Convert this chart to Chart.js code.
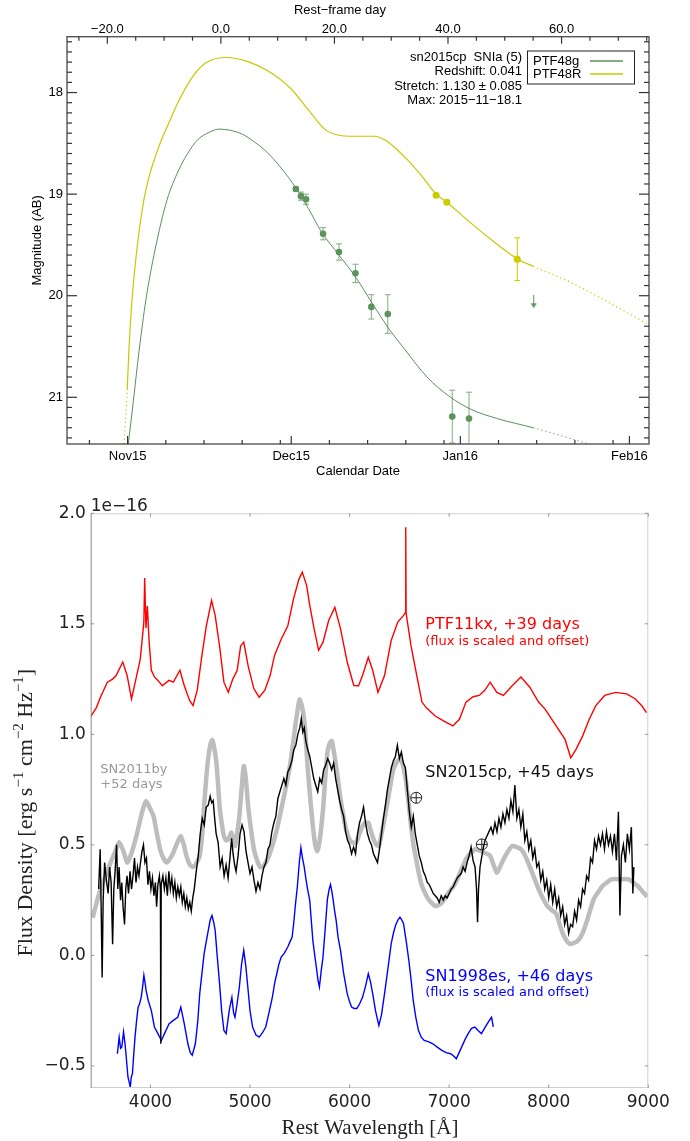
<!DOCTYPE html>
<html>
<head>
<meta charset="utf-8">
<script src="https://cdn.jsdelivr.net/npm/chart.js@4.4.1/dist/chart.umd.min.js"></script>
<style>
  html, body { margin: 0; padding: 0; background: #fff; }
  #wrap { position: relative; width: 690px; height: 1141px; }
  canvas { position: absolute; left: 0; }
  #lc { top: 0; }
  #sp { top: 482px; }
</style>
</head>
<body>
<div id="wrap">
  <canvas id="lc" width="690" height="482"></canvas>
  <canvas id="sp" width="690" height="659"></canvas>
</div>
<script>
// ---------- light curve (rest-frame days from max, AB mag) ----------
const z = 1.041;
const fitStart = -16.5, fitEnd = 55.0; // model dotted outside this window

const gModelDay = [-16.3,-15.4,-14.4,-13.2,-11.6,-9.5,-7.4,-5.4,-4.0,-2.0,-0.3,1.5,3.8,6.0,7.6,9.2,11.0,13.1,15.4,17.7,20.8,23.9,26.6,29.4,32.4,36.3,40.2,44.1,48.7,55.0,60.0,64.8];
const gModelMag = [21.46,21.03,20.54,20.04,19.55,19.06,18.76,18.56,18.46,18.39,18.36,18.37,18.41,18.49,18.56,18.65,18.77,18.93,19.14,19.37,19.60,19.83,20.07,20.31,20.53,20.80,20.99,21.12,21.21,21.30,21.38,21.46];
const rModelDay = [-17.05,-16.5,-16.2,-15.65,-14.8,-13.7,-12.7,-11.6,-10.5,-9.4,-7.5,-4.8,-2.4,1.0,4.5,8.4,12.3,15.4,18.5,20.8,23.2,27.0,29.0,31.0,33.0,35.5,37.9,39.8,43.3,47.2,52.3,55.0,62.0,69.7,75.5];
const rModelMag = [21.46,20.93,20.54,20.04,19.55,19.10,18.84,18.64,18.47,18.33,18.09,17.83,17.70,17.655,17.69,17.79,17.96,18.17,18.37,18.42,18.43,18.43,18.47,18.56,18.67,18.83,19.00,19.08,19.25,19.43,19.64,19.71,19.88,20.11,20.29];

const gObsDay = [13.2, 14.1, 15.0, 18.0, 20.8, 23.7, 26.5, 29.4, 40.75, 43.7];
const gObsMag = [18.95, 19.02, 19.05, 19.39, 19.57, 19.78, 20.11, 20.18, 21.19, 21.21];
const gObsErr = [0.02, 0.04, 0.05, 0.06, 0.08, 0.09, 0.12, 0.19, 0.26, 0.26];
const rObsDay = [37.9, 39.8, 52.2];
const rObsMag = [19.01, 19.08, 19.64];
const rObsErr = [0.01, 0.02, 0.21];
const gLimDay = [55.1];
const gLimMag = [20.06];

const magTicks = [18, 19, 20, 21];
const restTicks = [-20, 0, 20, 40, 60];
// calendar ticks as observer-frame days from max (2015-11-18.1)
const dateMajorObs = [-17.1, 12.9, 43.9, 74.9];
const dateLabels = ['Nov15', 'Dec15', 'Jan16', 'Feb16'];
const dateMinorObs = [-24.1, -10.1, -3.1, 3.9, 10.9, 19.9, 26.9, 33.9, 40.9, 50.9, 57.9, 64.9, 71.9];

// ---------- spectra (wavelength in A, flux in 1e-16) ----------
const redSpec = [[3400,1.08],[3456,1.12],[3500,1.17],[3567,1.236],[3620,1.25],[3655,1.266],[3722,1.327],[3766,1.266],[3810,1.16],[3854,1.25],[3898,1.34],[3934,1.51],[3942,1.707],[3955,1.48],[3969,1.58],[3987,1.417],[4009,1.29],[4040,1.26],[4075,1.244],[4119,1.22],[4186,1.244],[4230,1.236],[4296,1.29],[4340,1.22],[4393,1.153],[4428,1.13],[4470,1.2],[4517,1.357],[4561,1.49],[4614,1.606],[4650,1.538],[4694,1.40],[4738,1.236],[4782,1.19],[4827,1.25],[4871,1.29],[4906,1.40],[4937,1.417],[4981,1.31],[5039,1.206],[5092,1.168],[5149,1.20],[5202,1.266],[5246,1.357],[5313,1.43],[5379,1.49],[5437,1.613],[5490,1.70],[5525,1.734],[5569,1.673],[5600,1.583],[5644,1.477],[5689,1.38],[5733,1.417],[5790,1.515],[5852,1.575],[5909,1.477],[5976,1.327],[6042,1.221],[6090,1.22],[6130,1.266],[6188,1.349],[6232,1.29],[6285,1.19],[6351,1.266],[6418,1.425],[6484,1.508],[6542,1.538],[6560,1.55],[6564,1.937],[6568,1.55],[6577,1.52],[6617,1.40],[6675,1.266],[6727,1.146],[6771,1.12],[6860,1.083],[6948,1.06],[7037,1.038],[7103,1.068],[7169,1.146],[7240,1.17],[7302,1.176],[7360,1.2],[7412,1.236],[7479,1.19],[7545,1.176],[7633,1.22],[7721,1.259],[7810,1.213],[7898,1.146],[7965,1.113],[8053,1.053],[8164,0.977],[8221,0.894],[8274,0.932],[8340,0.992],[8407,1.068],[8473,1.13],[8562,1.176],[8672,1.19],[8783,1.183],[8871,1.16],[8937,1.128],[8981,1.098]];

const graySpec = [[3420,0.17],[3460,0.24],[3500,0.30],[3550,0.36],[3600,0.42],[3642,0.465],[3686,0.513],[3730,0.47],[3766,0.42],[3800,0.45],[3832,0.495],[3870,0.56],[3898,0.615],[3930,0.67],[3955,0.698],[3990,0.67],[4031,0.63],[4065,0.55],[4097,0.48],[4130,0.44],[4164,0.42],[4200,0.44],[4230,0.465],[4270,0.51],[4305,0.54],[4335,0.50],[4362,0.45],[4395,0.41],[4429,0.40],[4465,0.42],[4495,0.45],[4520,0.55],[4539,0.676],[4560,0.80],[4583,0.902],[4605,0.96],[4622,0.974],[4640,0.94],[4659,0.887],[4675,0.80],[4694,0.676],[4715,0.60],[4738,0.54],[4760,0.52],[4782,0.525],[4813,0.555],[4849,0.495],[4870,0.55],[4893,0.63],[4915,0.75],[4937,0.857],[4958,0.80],[4981,0.676],[5010,0.57],[5039,0.48],[5070,0.43],[5101,0.40],[5130,0.40],[5158,0.42],[5190,0.45],[5224,0.495],[5270,0.57],[5313,0.66],[5360,0.76],[5401,0.857],[5430,0.95],[5454,1.038],[5478,1.11],[5498,1.158],[5520,1.13],[5543,1.068],[5560,0.98],[5578,0.857],[5605,0.71],[5631,0.585],[5655,0.50],[5675,0.472],[5700,0.52],[5733,0.66],[5755,0.80],[5777,0.917],[5800,0.96],[5821,0.97],[5850,0.90],[5879,0.81],[5905,0.72],[5932,0.645],[5965,0.57],[5998,0.525],[6030,0.51],[6064,0.51],[6100,0.55],[6130,0.585],[6160,0.60],[6188,0.60],[6215,0.56],[6241,0.525],[6270,0.50],[6294,0.495],[6330,0.57],[6374,0.676],[6410,0.77],[6440,0.842],[6475,0.875],[6506,0.887],[6530,0.87],[6559,0.81],[6590,0.70],[6617,0.585],[6645,0.49],[6675,0.42],[6700,0.36],[6727,0.314],[6760,0.28],[6793,0.253],[6830,0.235],[6860,0.223],[6895,0.228],[6926,0.238],[6960,0.26],[6993,0.284],[7040,0.31],[7081,0.344],[7125,0.39],[7169,0.434],[7210,0.46],[7258,0.48],[7300,0.475],[7346,0.465],[7380,0.46],[7412,0.45],[7445,0.41],[7479,0.374],[7510,0.40],[7545,0.434],[7590,0.47],[7633,0.495],[7680,0.49],[7721,0.48],[7765,0.45],[7810,0.40],[7855,0.35],[7898,0.30],[7940,0.26],[7986,0.223],[8030,0.205],[8075,0.189],[8110,0.14],[8142,0.098],[8175,0.07],[8208,0.053],[8250,0.055],[8296,0.068],[8340,0.10],[8385,0.158],[8420,0.21],[8451,0.253],[8495,0.285],[8540,0.314],[8585,0.33],[8628,0.344],[8672,0.345],[8717,0.344],[8760,0.345],[8805,0.344],[8850,0.33],[8894,0.314],[8940,0.29],[8990,0.265]];

const blackSpec = [[3480,0.30],[3495,0.48],[3505,0.22],[3515,-0.10],[3525,0.25],[3540,0.42],[3555,0.35],[3575,0.28],[3590,0.40],[3605,0.33],[3620,0.05],[3632,0.30],[3645,0.38],[3660,0.50],[3672,0.30],[3685,0.40],[3700,0.25],[3712,0.33],[3725,0.22],[3740,0.14],[3752,0.30],[3765,0.36],[3780,0.28],[3795,0.38],[3810,0.30],[3825,0.36],[3840,0.44],[3855,0.33],[3870,0.40],[3885,0.36],[3900,0.42],[3915,0.47],[3930,0.50],[3945,0.42],[3960,0.44],[3975,0.32],[3990,0.38],[4005,0.30],[4020,0.35],[4035,0.27],[4050,0.33],[4062,0.22],[4075,0.32],[4090,0.36],[4100,0.30],[4104,-0.40],[4108,0.32],[4125,0.36],[4140,0.30],[4155,0.35],[4170,0.27],[4185,0.38],[4200,0.30],[4215,0.35],[4230,0.28],[4245,0.33],[4260,0.26],[4275,0.31],[4290,0.27],[4305,0.31],[4320,0.24],[4335,0.28],[4350,0.22],[4365,0.26],[4380,0.21],[4395,0.24],[4410,0.20],[4425,0.26],[4440,0.30],[4460,0.38],[4480,0.45],[4500,0.55],[4520,0.62],[4540,0.59],[4560,0.67],[4580,0.68],[4600,0.72],[4615,0.69],[4630,0.70],[4645,0.62],[4660,0.55],[4680,0.51],[4700,0.40],[4720,0.44],[4740,0.36],[4760,0.41],[4780,0.35],[4800,0.45],[4815,0.53],[4830,0.46],[4845,0.41],[4860,0.38],[4880,0.45],[4900,0.55],[4920,0.59],[4940,0.56],[4960,0.47],[4980,0.42],[5000,0.37],[5020,0.40],[5040,0.34],[5060,0.29],[5080,0.33],[5100,0.30],[5120,0.36],[5140,0.40],[5160,0.42],[5180,0.48],[5200,0.50],[5220,0.56],[5240,0.60],[5260,0.63],[5280,0.71],[5300,0.74],[5320,0.77],[5340,0.80],[5360,0.77],[5380,0.83],[5400,0.85],[5420,0.88],[5440,0.93],[5460,0.95],[5480,1.00],[5500,1.03],[5515,1.07],[5530,1.01],[5545,1.03],[5560,0.97],[5580,0.93],[5600,0.90],[5620,0.85],[5640,0.80],[5660,0.77],[5680,0.74],[5700,0.80],[5720,0.78],[5740,0.84],[5760,0.86],[5780,0.89],[5800,0.87],[5820,0.84],[5840,0.87],[5860,0.80],[5880,0.75],[5900,0.70],[5920,0.66],[5940,0.63],[5960,0.56],[5980,0.52],[6000,0.50],[6020,0.46],[6040,0.49],[6060,0.46],[6080,0.55],[6100,0.60],[6120,0.63],[6140,0.67],[6160,0.60],[6180,0.55],[6200,0.52],[6220,0.50],[6240,0.46],[6260,0.44],[6280,0.42],[6300,0.48],[6320,0.55],[6340,0.62],[6360,0.68],[6380,0.75],[6400,0.80],[6420,0.85],[6440,0.88],[6460,0.90],[6480,0.95],[6500,0.89],[6520,0.92],[6540,0.87],[6560,0.85],[6580,0.75],[6600,0.65],[6620,0.58],[6640,0.63],[6660,0.55],[6680,0.50],[6700,0.45],[6720,0.42],[6740,0.38],[6760,0.36],[6780,0.33],[6800,0.32],[6820,0.30],[6840,0.28],[6860,0.27],[6880,0.26],[6900,0.24],[6920,0.27],[6940,0.25],[6960,0.27],[6980,0.26],[7000,0.28],[7020,0.30],[7040,0.31],[7060,0.33],[7080,0.35],[7100,0.36],[7120,0.37],[7140,0.40],[7160,0.38],[7180,0.42],[7200,0.45],[7220,0.49],[7240,0.43],[7260,0.40],[7275,0.30],[7285,0.15],[7295,0.30],[7310,0.40],[7325,0.44],[7340,0.48],[7360,0.52],[7380,0.54],[7400,0.56],[7420,0.58],[7440,0.55],[7460,0.60],[7480,0.56],[7500,0.62],[7520,0.58],[7540,0.64],[7560,0.60],[7580,0.66],[7600,0.62],[7620,0.70],[7640,0.65],[7660,0.77],[7680,0.62],[7700,0.66],[7720,0.58],[7740,0.64],[7760,0.52],[7780,0.56],[7800,0.48],[7820,0.52],[7840,0.44],[7860,0.48],[7880,0.40],[7900,0.42],[7920,0.34],[7940,0.38],[7960,0.30],[7980,0.34],[8000,0.26],[8020,0.32],[8040,0.24],[8060,0.30],[8080,0.22],[8100,0.26],[8120,0.18],[8140,0.22],[8160,0.14],[8180,0.18],[8200,0.10],[8220,0.14],[8240,0.13],[8260,0.20],[8280,0.16],[8300,0.25],[8320,0.22],[8340,0.30],[8360,0.28],[8380,0.36],[8400,0.34],[8420,0.44],[8440,0.42],[8460,0.52],[8480,0.48],[8500,0.54],[8520,0.50],[8540,0.55],[8560,0.48],[8580,0.56],[8600,0.50],[8620,0.54],[8640,0.47],[8660,0.55],[8680,0.43],[8700,0.65],[8715,0.18],[8730,0.45],[8750,0.50],[8770,0.42],[8790,0.55],[8810,0.48],[8830,0.58],[8845,0.28],[8855,0.40]];

const blueSpec = [[3668,-0.445],[3686,-0.37],[3700,-0.42],[3712,-0.415],[3730,-0.347],[3745,-0.40],[3757,-0.46],[3774,-0.55],[3790,-0.58],[3797,-0.596],[3808,-0.55],[3819,-0.535],[3832,-0.45],[3845,-0.37],[3860,-0.30],[3876,-0.234],[3890,-0.22],[3907,-0.19],[3922,-0.14],[3934,-0.09],[3945,-0.12],[3956,-0.158],[3978,-0.204],[4009,-0.25],[4040,-0.324],[4075,-0.354],[4110,-0.385],[4141,-0.354],[4186,-0.31],[4230,-0.294],[4274,-0.28],[4305,-0.234],[4340,-0.31],[4376,-0.40],[4400,-0.44],[4420,-0.452],[4451,-0.40],[4475,-0.30],[4495,-0.173],[4520,-0.07],[4539,0.008],[4575,0.098],[4600,0.16],[4618,0.18],[4635,0.15],[4650,0.113],[4670,0.0],[4694,-0.128],[4715,-0.25],[4738,-0.34],[4760,-0.354],[4791,-0.25],[4818,-0.19],[4835,-0.26],[4849,-0.28],[4870,-0.22],[4893,-0.143],[4915,-0.04],[4937,0.023],[4958,-0.05],[4981,-0.158],[5000,-0.25],[5026,-0.324],[5060,-0.36],[5092,-0.37],[5125,-0.35],[5158,-0.324],[5190,-0.26],[5224,-0.19],[5250,-0.12],[5269,-0.083],[5290,-0.04],[5313,-0.008],[5345,0.01],[5379,0.038],[5400,0.06],[5423,0.083],[5440,0.15],[5454,0.22],[5476,0.314],[5495,0.42],[5511,0.487],[5527,0.44],[5543,0.404],[5560,0.35],[5578,0.30],[5600,0.249],[5615,0.16],[5631,0.068],[5650,0.0],[5666,-0.053],[5682,-0.11],[5697,-0.143],[5715,-0.07],[5733,-0.008],[5755,0.12],[5777,0.253],[5795,0.30],[5808,0.321],[5822,0.29],[5834,0.253],[5850,0.2],[5865,0.158],[5885,0.08],[5909,0.023],[5940,-0.08],[5976,-0.173],[6000,-0.21],[6020,-0.234],[6045,-0.24],[6073,-0.24],[6100,-0.22],[6130,-0.19],[6160,-0.14],[6188,-0.083],[6210,-0.12],[6232,-0.173],[6260,-0.25],[6294,-0.317],[6320,-0.27],[6351,-0.173],[6385,-0.06],[6418,0.053],[6440,0.10],[6462,0.136],[6485,0.16],[6506,0.173],[6525,0.16],[6542,0.143],[6570,0.06],[6595,-0.023],[6620,-0.12],[6639,-0.204],[6665,-0.28],[6692,-0.34],[6720,-0.37],[6749,-0.385],[6790,-0.39],[6837,-0.40],[6880,-0.415],[6926,-0.43],[6970,-0.44],[7014,-0.445],[7045,-0.455],[7072,-0.468],[7100,-0.44],[7125,-0.415],[7160,-0.38],[7191,-0.354],[7225,-0.33],[7258,-0.324],[7290,-0.34],[7324,-0.354],[7355,-0.33],[7382,-0.31],[7410,-0.29],[7426,-0.28],[7443,-0.324]];

const waveTicks = [4000, 5000, 6000, 7000, 8000, 9000];
const fluxTicks = [-0.5, 0.0, 0.5, 1.0, 1.5, 2.0];
const telluricMarks = [[6669, 0.713], [7328, 0.502]];

// ---------- shared helpers ----------
const sans = "'Liberation Sans', Arial, sans-serif";
const dvs = "'DejaVu Sans', sans-serif";
const serif = "'Liberation Serif', 'Times New Roman', serif";
const gCol = '#5d935d', gErrCol = '#7fad7f', gLine = '#5b8f5b';
const rCol = '#cccc00', rLine = '#c8c800';

function seg(ctx, x1, y1, x2, y2) {
  ctx.beginPath(); ctx.moveTo(x1, y1); ctx.lineTo(x2, y2); ctx.stroke();
}
const pts = (xs, ys) => xs.map((v, i) => ({ x: v, y: ys[i] }));
const dotted = c => (c.p0.parsed.x >= fitEnd || c.p1.parsed.x <= fitStart) ? [1.2, 3] : undefined;

// little down-arrow for the upper limit
const arrowImg = document.createElement('canvas');
arrowImg.width = 7; arrowImg.height = 13;
(() => {
  const a = arrowImg.getContext('2d');
  a.strokeStyle = gCol; a.fillStyle = gCol; a.lineWidth = 1;
  seg(a, 3.5, 0, 3.5, 10);
  a.beginPath(); a.moveTo(0.5, 8); a.lineTo(6.5, 8); a.lineTo(3.5, 13); a.closePath(); a.fill();
})();

// ---------- light curve chart ----------
const lcPlugin = {
  id: 'lcPlugin',
  beforeDatasetsDraw(chart) {
    const { ctx, scales: { x, y } } = chart;
    ctx.save();
    ctx.lineWidth = 1;
    const bars = (days, mags, errs, col) => {
      ctx.strokeStyle = col;
      days.forEach((d, i) => {
        const px = x.getPixelForValue(d);
        const y1 = y.getPixelForValue(mags[i] - errs[i]);
        const y2 = y.getPixelForValue(mags[i] + errs[i]);
        seg(ctx, px, y1, px, y2);
        seg(ctx, px - 3, y1, px + 3, y1);
        seg(ctx, px - 3, y2, px + 3, y2);
      });
    };
    ctx.beginPath(); ctx.rect(chart.chartArea.left, chart.chartArea.top, chart.chartArea.width, chart.chartArea.height); ctx.clip();
    bars(gObsDay, gObsMag, gObsErr, gErrCol);
    bars(rObsDay, rObsMag, rObsErr, rCol);
    ctx.restore();
  },
  afterDraw(chart) {
    const { ctx, chartArea: a, scales: { x, y } } = chart;
    ctx.save();
    ctx.strokeStyle = '#555';
    ctx.lineWidth = 1.4;
    ctx.strokeRect(a.left, a.top, a.width, a.height);
    ctx.strokeStyle = '#333';
    ctx.lineWidth = 1.2;
    // magnitude ticks, both sides, inward
    for (let k = 175; k <= 214; k++) {
      const m = k / 10;
      const py = y.getPixelForValue(m);
      const len = (k % 10 === 0) ? 10 : 5;
      seg(ctx, a.left, py, a.left + len, py);
      seg(ctx, a.right, py, a.right - len, py);
    }
    // rest-frame ticks on top
    for (let d = -25; d <= 75; d += 5) {
      const px = x.getPixelForValue(d);
      const len = (d % 20 === 0) ? 7 : 4;
      seg(ctx, px, a.top, px, a.top + len);
    }
    // calendar ticks on bottom
    dateMajorObs.forEach(d => { const px = x.getPixelForValue(d / z); seg(ctx, px, a.bottom, px, a.bottom - 8); });
    dateMinorObs.forEach(d => { const px = x.getPixelForValue(d / z); seg(ctx, px, a.bottom, px, a.bottom - 4); });

    ctx.fillStyle = '#000';
    ctx.font = '13px ' + sans;
    ctx.textAlign = 'center'; ctx.textBaseline = 'middle';
    ctx.fillText('Rest\u2212frame day', 340, 10);
    ctx.fillText('Calendar Date', 358, 471);
    ctx.save();
    ctx.translate(37, (a.top + a.bottom) / 2);
    ctx.rotate(-Math.PI / 2);
    ctx.fillText('Magnitude (AB)', 0, 0);
    ctx.restore();

    // info block
    ctx.textAlign = 'right';
    ['sn2015cp  SNIa (5)', 'Redshift: 0.041', 'Stretch: 1.130 \u00b1 0.085', 'Max: 2015\u221211\u221218.1']
      .forEach((t, i) => ctx.fillText(t, 522, 57.5 + i * 14.3));

    // legend box
    ctx.strokeStyle = '#222'; ctx.lineWidth = 1;
    ctx.strokeRect(527.5, 51, 107, 33);
    ctx.textAlign = 'left';
    ctx.fillText('PTF48g', 533, 61);
    ctx.fillText('PTF48R', 533, 74);
    ctx.lineWidth = 1.5;
    ctx.strokeStyle = gLine; seg(ctx, 590, 61, 623, 61);
    ctx.strokeStyle = rLine; seg(ctx, 590, 74, 623, 74);
    ctx.restore();
  }
};

new Chart(document.getElementById('lc'), {
  type: 'line',
  data: {
    datasets: [
      { data: pts(gObsDay, gObsMag), showLine: false, pointRadius: 3.3, pointBackgroundColor: gCol, pointBorderWidth: 0, order: 0 },
      { data: pts(rObsDay, rObsMag), showLine: false, pointRadius: 3.5, pointBackgroundColor: rCol, pointBorderWidth: 0, order: 0 },
      { data: pts(gLimDay, gLimMag), showLine: false, pointStyle: arrowImg, pointRadius: 6, order: 0 },
      { data: pts(gModelDay, gModelMag), borderColor: gLine, borderWidth: 1, pointRadius: 0,
        cubicInterpolationMode: 'monotone', segment: { borderDash: dotted }, order: 1 },
      { data: pts(rModelDay, rModelMag), borderColor: rLine, borderWidth: 1.2, pointRadius: 0,
        cubicInterpolationMode: 'monotone', segment: { borderDash: dotted }, order: 1 }
    ]
  },
  options: {
    responsive: false, animation: false, devicePixelRatio: 1,
    layout: { padding: { left: 0, right: 41, top: 0, bottom: 0 } },
    plugins: { legend: { display: false }, tooltip: { enabled: false } },
    scales: {
      x: {
        type: 'linear', position: 'bottom', min: -27.1, max: 75.4,
        afterBuildTicks: s => { s.ticks = dateMajorObs.map(d => ({ value: d / z })); },
        afterFit: s => { s.height = 38; },
        grid: { display: false, drawTicks: false }, border: { display: false },
        ticks: { font: { family: sans, size: 13 }, color: '#000', padding: 5, maxRotation: 0, autoSkip: false,
                 callback: (v, i) => dateLabels[i] }
      },
      xTop: {
        type: 'linear', position: 'top', min: -27.1, max: 75.4,
        afterBuildTicks: s => { s.ticks = restTicks.map(v => ({ value: v })); },
        afterFit: s => { s.height = 36.7; },
        grid: { display: false, drawTicks: false }, border: { display: false },
        ticks: { font: { family: sans, size: 13 }, color: '#000', padding: -1, maxRotation: 0, autoSkip: false,
                 callback: v => (v < 0 ? '\u2212' : '') + Math.abs(v).toFixed(1) }
      },
      y: {
        type: 'linear', reverse: true, min: 17.45, max: 21.46,
        afterBuildTicks: s => { s.ticks = magTicks.map(v => ({ value: v })); },
        afterFit: s => { s.width = 67; },
        grid: { display: false, drawTicks: false }, border: { display: false },
        ticks: { font: { family: sans, size: 13 }, color: '#000', padding: 4, callback: v => String(v) }
      }
    }
  },
  plugins: [lcPlugin]
});

// ---------- spectra chart ----------
const spPlugin = {
  id: 'spPlugin',
  afterDraw(chart) {
    const { ctx, chartArea: a, scales: { x, y } } = chart;
    ctx.save();
    ctx.lineWidth = 1;
    ctx.strokeStyle = '#cfcfcf';
    seg(ctx, a.left, a.top + 0.5, a.right, a.top + 0.5);
    seg(ctx, a.right - 0.5, a.top, a.right - 0.5, a.bottom);
    seg(ctx, a.left, a.bottom - 0.5, a.right, a.bottom - 0.5);
    ctx.strokeStyle = '#8a8a8a';
    seg(ctx, a.left + 0.5, a.top, a.left + 0.5, a.bottom);
    ctx.strokeStyle = '#999';
    waveTicks.forEach(w => {
      const px = x.getPixelForValue(w);
      seg(ctx, px, a.bottom, px, a.bottom - 3.5);
      seg(ctx, px, a.top, px, a.top + 3.5);
    });
    fluxTicks.forEach(f => {
      const py = y.getPixelForValue(f);
      seg(ctx, a.left, py, a.left + 3.5, py);
      seg(ctx, a.right, py, a.right - 3.5, py);
    });

    // offset label
    ctx.fillStyle = '#222';
    ctx.font = '17px ' + dvs;
    ctx.textAlign = 'left'; ctx.textBaseline = 'alphabetic';
    ctx.fillText('1e\u221216', a.left, 29);

    // axis titles
    ctx.font = '21px ' + serif;
    ctx.textAlign = 'center';
    ctx.fillText('Rest Wavelength [\u00c5]', 370, 652);
    ctx.save();
    ctx.translate(32, (a.top + a.bottom) / 2 + 12);
    ctx.rotate(-Math.PI / 2);
    const parts = [['Flux Density [erg s', 0], ['\u22121', 1], [' cm', 0], ['\u22122', 1], [' Hz', 0], ['\u22121', 1], [']', 0]];
    const fontFor = p => p ? '15px ' + serif : '22px ' + serif;
    let total = 0;
    parts.forEach(([t, p]) => { ctx.font = fontFor(p); total += ctx.measureText(t).width; });
    let cx = -total / 2;
    ctx.textAlign = 'left';
    parts.forEach(([t, p]) => {
      ctx.font = fontFor(p);
      ctx.fillText(t, cx, p ? -9 : 0);
      cx += ctx.measureText(t).width;
    });
    ctx.restore();

    // labels
    const lab = (t, w, f, col, size) => {
      ctx.fillStyle = col; ctx.font = size + 'px ' + dvs;
      ctx.textAlign = 'left'; ctx.textBaseline = 'middle';
      ctx.fillText(t, x.getPixelForValue(w), y.getPixelForValue(f));
    };
    lab('PTF11kx, +39 days', 6760, 1.495, '#ff0000', 16);
    lab('(flux is scaled and offset)', 6760, 1.419, '#ff0000', 13);
    lab('SN2015cp, +45 days', 6760, 0.826, '#111', 16);
    lab('SN2011by', 3497, 0.839, '#999', 13);
    lab('+52 days', 3497, 0.771, '#999', 13);
    lab('SN1998es, +46 days', 6760, -0.098, '#0000ff', 16);
    lab('(flux is scaled and offset)', 6760, -0.17, '#0000ff', 13);

    // telluric markers
    ctx.strokeStyle = '#222'; ctx.lineWidth = 1;
    telluricMarks.forEach(([w, f]) => {
      const px = x.getPixelForValue(w), py = y.getPixelForValue(f);
      ctx.beginPath(); ctx.arc(px, py, 5.5, 0, Math.PI * 2); ctx.stroke();
      seg(ctx, px - 5.5, py, px + 5.5, py);
      seg(ctx, px, py - 5.5, px, py + 5.5);
    });
    ctx.restore();
  }
};

const specData = s => s.map(p => ({ x: p[0], y: p[1] }));

new Chart(document.getElementById('sp'), {
  type: 'line',
  data: {
    datasets: [
      { data: specData(blackSpec), borderColor: '#000', borderWidth: 1.4, pointRadius: 0, tension: 0, order: 0 },
      { data: specData(redSpec), borderColor: '#ff0000', borderWidth: 1.4, pointRadius: 0, tension: 0, order: 1 },
      { data: specData(blueSpec), borderColor: '#0000ff', borderWidth: 1.4, pointRadius: 0, tension: 0, order: 1 },
      { data: specData(graySpec), borderColor: '#bdbdbd', borderWidth: 4.5, pointRadius: 0, tension: 0.2, order: 2 }
    ]
  },
  options: {
    responsive: false, animation: false, devicePixelRatio: 1,
    layout: { padding: { left: 0, right: 41.7, top: 31.3, bottom: 0 } },
    plugins: { legend: { display: false }, tooltip: { enabled: false } },
    scales: {
      x: {
        type: 'linear', min: 3400, max: 9000,
        afterBuildTicks: s => { s.ticks = waveTicks.map(v => ({ value: v })); },
        afterFit: s => { s.height = 53; },
        grid: { display: false, drawTicks: false }, border: { display: false },
        ticks: { font: { family: dvs, size: 17 }, color: '#222', padding: 4, maxRotation: 0, autoSkip: false,
                 callback: v => String(v) }
      },
      y: {
        type: 'linear', min: -0.6, max: 2.0,
        afterBuildTicks: s => { s.ticks = fluxTicks.map(v => ({ value: v })); },
        afterFit: s => { s.width = 90.7; },
        grid: { display: false, drawTicks: false }, border: { display: false },
        ticks: { font: { family: dvs, size: 17 }, color: '#222', padding: 5,
                 callback: v => (v < 0 ? '\u2212' : '') + Math.abs(v).toFixed(1) }
      }
    }
  },
  plugins: [spPlugin]
});
</script>
</body>
</html>
